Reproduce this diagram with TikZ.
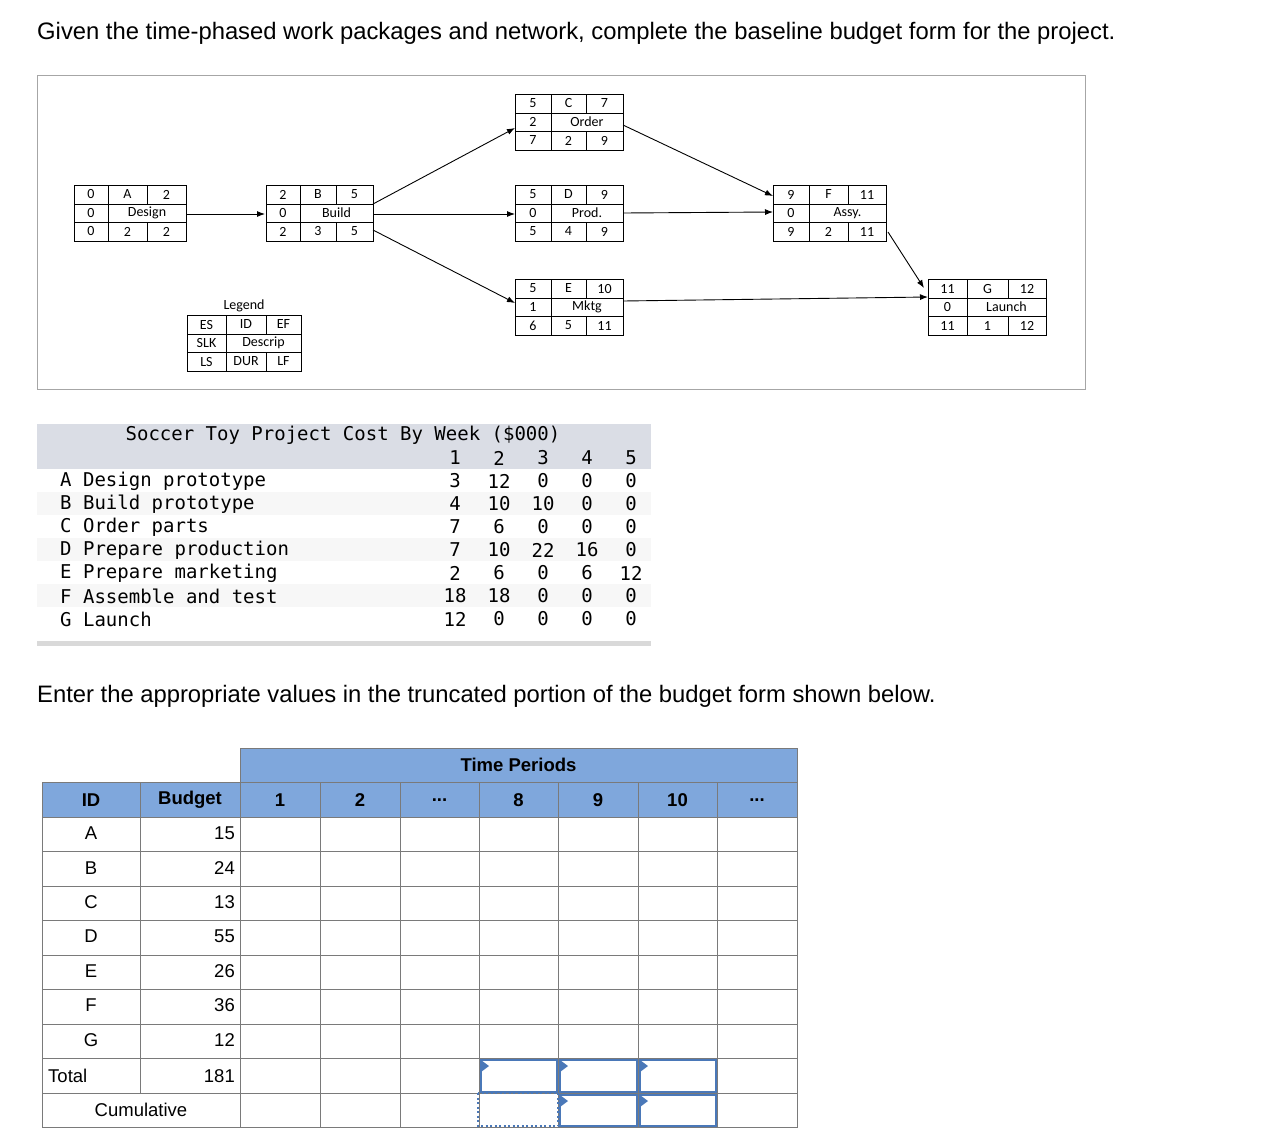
\documentclass[tikz,border=0pt]{standalone}
\usepackage{fontspec}
\setmainfont{Liberation Sans}
\newfontfamily\monof{DejaVu Sans Mono}
\newfontfamily\calf{Carlito}
\usetikzlibrary{arrows.meta}
\definecolor{hdrblue}{HTML}{7FA7DC}
\definecolor{inblue}{HTML}{4A78B8}
\definecolor{gridg}{HTML}{7A7A7A}
\definecolor{bandg}{HTML}{DADDE5}
\tikzset{
 net/.style={line width=0.9pt},
 arr/.style={line width=0.9pt,-{Latex[length=8pt,width=6pt]}},
 nt/.style={font=\calf\fontsize{14}{14}\selectfont,inner sep=0pt},
 mt/.style={font=\monof\fontsize{19}{19}\selectfont,inner sep=0pt},
 bt/.style={font=\fontsize{18.5}{18.5}\selectfont,inner sep=0pt},
 bbt/.style={font=\bfseries\fontsize{18.5}{18.5}\selectfont,inner sep=0pt},
 gl/.style={gridg,line width=1pt},
 inbox/.style={draw=inblue,line width=2pt},
 big/.style={anchor=west,font=\fontsize{23.8}{23.8}\selectfont,inner sep=0pt},
}
\begin{document}
\begin{tikzpicture}[x=1pt,y=-1pt]
\useasboundingbox (0,0) rectangle (1274,1138);
\node[big] (t1) at (37,33) {Given the time-phased work packages and network, complete the baseline budget form for the project.};
\draw[gray!70,line width=1pt] (37,75) rectangle (1085,389);
\foreach \nm/\xa/\xb/\xc/\xd/\ya/\es/\id/\ef/\sl/\de/\ls/\du/\lf in {
 A/74/108/147/186/185/0/A/2/0/Design/0/2/2,
 B/266/300/336/373/185/2/B/5/0/Build/2/3/5,
 C/515/551/586/623/94/5/C/7/2/Order/7/2/9,
 D/515/551/586/623/185/5/D/9/0/Prod./5/4/9,
 E/515/551/586/623/279/5/E/10/1/Mktg/6/5/11,
 F/773/809/848/886/185/9/F/11/0/Assy./9/2/11,
 G/928/967/1008/1046/279/11/G/12/0/Launch/11/1/12,
 L/187/226/266/301/315/ES/ID/EF/SLK/Descrip/LS/DUR/LF}{
 \draw[net] (\xa,\ya) rectangle (\xd,\ya+56);
 \draw[net] (\xa,\ya+19) -- (\xd,\ya+19) (\xa,\ya+37) -- (\xd,\ya+37);
 \draw[net] (\xb,\ya) -- (\xb,\ya+56);
 \draw[net] (\xc,\ya) -- (\xc,\ya+19) (\xc,\ya+37) -- (\xc,\ya+56);
 \node[nt] at ({(\xa+\xb)/2},\ya+9.5) {\es};
 \node[nt] at ({(\xb+\xc)/2},\ya+9.5) {\id};
 \node[nt] at ({(\xc+\xd)/2},\ya+9.5) {\ef};
 \node[nt] at ({(\xa+\xb)/2},\ya+28) {\sl};
 \node[nt] at ({(\xb+\xd)/2},\ya+28) {\de};
 \node[nt] at ({(\xa+\xb)/2},\ya+46.5) {\ls};
 \node[nt] at ({(\xb+\xc)/2},\ya+46.5) {\du};
 \node[nt] at ({(\xc+\xd)/2},\ya+46.5) {\lf};
}
\node[nt] (lg) at (244,306) {Legend};
\coordinate (a1) at (186,214); \coordinate (b0) at (265,214);
\draw[arr] (a1) -- (b0);
\coordinate (b1) at (373,204); \coordinate (c0) at (515,128);
\draw[arr] (b1) -- (c0);
\coordinate (b2) at (373,214); \coordinate (d0) at (515,214);
\draw[arr] (b2) -- (d0);
\coordinate (b3) at (373,230); \coordinate (e0) at (515,303);
\draw[arr] (b3) -- (e0);
\coordinate (c1) at (623,125); \coordinate (f0) at (773,196);
\draw[arr] (c1) -- (f0);
\coordinate (d1) at (623,213); \coordinate (f1) at (773,212);
\draw[arr] (d1) -- (f1);
\coordinate (e1) at (623,301); \coordinate (g0) at (928,297);
\draw[arr] (e1) -- (g0);
\coordinate (f2) at (888,232); \coordinate (g1) at (924,288);
\draw[arr] (f2) -- (g1);
% cost table
\fill[bandg] (37,424) rectangle (651,469);
\foreach \yy in {492,538,584}{\fill[gray!6] (37,\yy) rectangle (651,\yy+23);}
\fill[gray!30] (37,641) rectangle (651,646);
\node[mt] (ct) at (343,435) {Soccer Toy Project Cost By Week (\$000)};
\foreach \v [count=\i] in {1,2,3,4,5}{\node[mt] at ({411+44*\i},458) {\v};}
\foreach \lab/\a/\b/\c/\d/\e [count=\r] in {
 A Design prototype/3/12/0/0/0,
 B Build prototype/4/10/10/0/0,
 C Order parts/7/6/0/0/0,
 D Prepare production/7/10/22/16/0,
 E Prepare marketing/2/6/0/6/12,
 F Assemble and test/18/18/0/0/0,
 G Launch/12/0/0/0/0}{
 \node[mt,anchor=west] at (60,{458+23*\r}) {\lab};
 \foreach \v [count=\i] in {\a,\b,\c,\d,\e}{\node[mt] at ({411+44*\i},{458+23*\r}) {\v};}
}
\node[big] (t2) at (37,696) {Enter the appropriate values in the truncated portion of the budget form shown below.};
% budget table
\fill[hdrblue] (240,748) rectangle (797,782);
\fill[hdrblue] (42,782) rectangle (797,817);
\draw[gl] (240,748) rectangle (797,1127);
\draw[gl] (42,782) rectangle (240,1127);
\draw[gl] (240,782) -- (797,782);
\foreach \yy in {817,851,886,920,955,989,1024,1058,1093}{\draw[gl] (42,\yy) -- (797,\yy);}
\foreach \xx in {320,400,479,558,638,717}{\draw[gl] (\xx,782) -- (\xx,1127);}
\draw[gl] (140,782) -- (140,1093);
\node[bbt] (tp) at (518.5,765) {Time Periods};
\node[bbt] at (91,800) {ID};
\node[bbt] at (190,800) {Budget};
\node[bbt] at (280,800) {1};
\node[bbt] at (360,800) {2};
\node[bbt] at (439.5,800) {...};
\node[bbt] at (518.5,800) {8};
\node[bbt] at (598,800) {9};
\node[bbt] at (677.5,800) {10};
\node[bbt] at (757,800) {...};
\foreach \id/\bv [count=\r] in {A/15,B/24,C/13,D/55,E/26,F/36,G/12}{
 \node[bt] at (91,{799+34.4*\r}) {\id};
 \node[bt,anchor=east] at (235,{799+34.4*\r}) {\bv};
}
\node[bt,anchor=west] (tot) at (48,1076) {Total};
\node[bt,anchor=east] at (235,1076) {181};
\node[bt] (cum) at (141,1110) {Cumulative};
\foreach \xa/\xb in {480/557,559/637,639/716}{
 \draw[inbox] (\xa+1,1060) rectangle (\xb,1092);
 \fill[inblue] (\xa+1,1060) -- (\xa+9,1066) -- (\xa+1,1072) -- cycle;
}
\foreach \xa/\xb in {559/637,639/716}{
 \draw[inbox] (\xa+1,1095) rectangle (\xb,1126);
 \fill[inblue] (\xa+1,1095) -- (\xa+9,1101) -- (\xa+1,1107) -- cycle;
}
\draw[inblue,line width=2pt,dash pattern=on 2pt off 2.5pt] (478,1093) rectangle (558,1126);
\end{tikzpicture}
\end{document}
